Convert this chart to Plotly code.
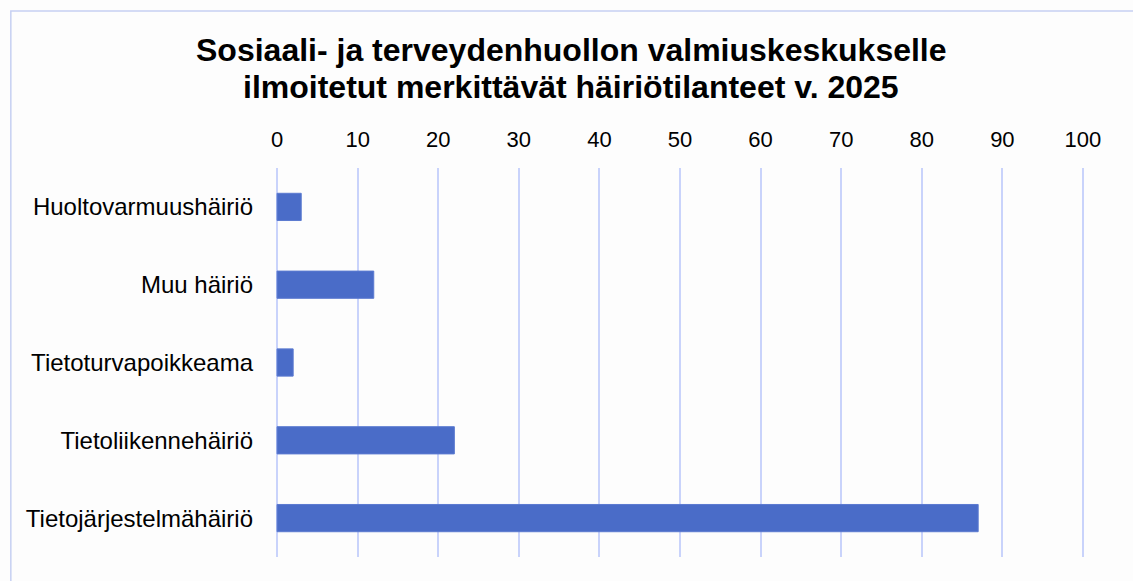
import plotly.graph_objects as go

categories = ["Huoltovarmuushäiriö", "Muu häiriö", "Tietoturvapoikkeama",
              "Tietoliikennehäiriö", "Tietojärjestelmähäiriö"]
values = [3, 12, 2, 22, 87]
tick_vals = [0, 10, 20, 30, 40, 50, 60, 70, 80, 90, 100]
title_line1 = "Sosiaali- ja terveydenhuollon valmiuskeskukselle"
title_line2 = "ilmoitetut merkittävät häiriötilanteet v. 2025"

W, H = 1133, 581
L, R, T, B = 275.5, 48.5, 168, 24
pw, ph = W - L - R, H - T - B
FONT = "Liberation Sans, Arial, sans-serif"

def px_to_paper_x(px):
    return (px - L) / pw

def px_to_paper_y(py):
    return (H - B - py) / ph

fig = go.Figure(go.Bar(
    y=categories, x=values, orientation="h",
    marker=dict(color="#4a6cc8", line=dict(color="#5b7ad0", width=1)),
    hoverinfo="x+y",
))

fig.update_layout(
    width=W, height=H,
    margin=dict(l=L, r=R, t=T, b=B),
    paper_bgcolor="#fdfdfd", plot_bgcolor="#fdfdfd",
    font=dict(family=FONT, color="#000000", size=21),
    bargap=0.65,
    showlegend=False,
    xaxis=dict(side="top", range=[-0.13, 100.13], tickvals=tick_vals, showgrid=True,
               gridcolor="#c9d3fb", gridwidth=2, zeroline=False, showline=False,
               ticks="", ticklabelstandoff=16, tickfont=dict(size=22)),
    yaxis=dict(autorange="reversed", showgrid=False, zeroline=False, showline=False,
               ticks="", ticklabelstandoff=22, tickfont=dict(size=24)),
    annotations=[
        dict(text=title_line1, xref="paper", yref="paper",
             x=px_to_paper_x(571), y=px_to_paper_y(50), xanchor="center", yanchor="middle",
             showarrow=False, font=dict(size=32, family=FONT, weight="bold", color="#000000")),
        dict(text=title_line2, xref="paper", yref="paper",
             x=px_to_paper_x(571), y=px_to_paper_y(86.5), xanchor="center", yanchor="middle",
             showarrow=False, font=dict(size=32, family=FONT, weight="bold", color="#000000")),
    ],
    shapes=[dict(type="rect", xref="paper", yref="paper",
                 x0=px_to_paper_x(10), x1=px_to_paper_x(1150),
                 y0=px_to_paper_y(600), y1=px_to_paper_y(11),
                 line=dict(color="#c6d0f2", width=1.5), fillcolor="rgba(0,0,0,0)",
                 layer="below")],
)

fig.write_html("out.html", config={"displayModeBar": False},
               post_script="document.body.style.margin='0';")
